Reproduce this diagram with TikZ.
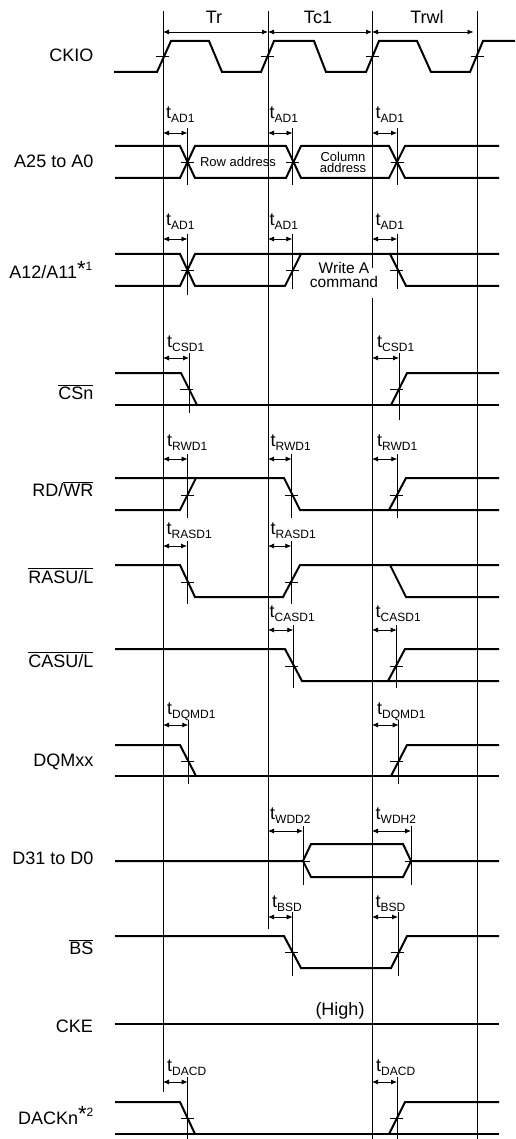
\documentclass[tikz,border=0pt]{standalone}
\usepackage{fontspec}
\setmainfont{Liberation Sans}
\usetikzlibrary{arrows.meta}

% Delay label: t with a lowered small subscript
\newcommand{\delayText}[1]{t\raisebox{-4pt}{\fontsize{12}{12}\selectfont #1}}
% Footnote mark after a signal name
\newcommand{\noteMark}[1]{\raisebox{2.5pt}{\fontsize{22}{22}\selectfont *}\raisebox{8pt}{\fontsize{12}{12}\selectfont #1}}

\tikzset{
    sigLine/.style={line width=2pt, line join=miter},
    refLine/.style={line width=0.8pt},
    gapArrow/.style={line width=0.8pt, {Latex[length=6pt,width=5pt]}-{Latex[length=6pt,width=5pt]}},
    sigName/.style={anchor=base east, inner sep=0pt, font=\fontsize{18}{18}\selectfont},
    delayName/.style={anchor=base west, inner sep=0pt, font=\fontsize{18}{18}\selectfont},
    stateName/.style={anchor=base, inner sep=0pt, font=\fontsize{18}{18}\selectfont},
    busText/.style={inner sep=0pt, align=center, font=\fontsize{13}{11}\selectfont}
}

\begin{document}
\begin{tikzpicture}[x=1pt, y=-1pt]
    \useasboundingbox (0,0) rectangle (515,1139);

    % Draw clock edges
    \draw[refLine] (163,11) -- (163,1092);
    \draw[refLine] (268,11) -- (268,929);
    \draw[refLine] (372,11) -- (372,268);
    \draw[refLine] (372,298) -- (372,1139);
    \draw[refLine] (477,11) -- (477,1139);

    % Cycle names
    \node[stateName] (tr) at (214,24) {Tr};
    \node[stateName] (tc) at (318,24) {Tc1};
    \node[stateName] (trwl) at (427,24) {Trwl};
    \draw[gapArrow] (163,32) -- (268,32);
    \draw[gapArrow] (268,32) -- (372,32);
    \draw[gapArrow] (372,32) -- (473.5,32);

    % Signal names
    \node[sigName] (ckio) at (93.5,62) {CKIO};
    \node[sigName] (addr) at (93.5,168) {A25 to A0};
    \node[sigName] (a12) at (92.5,279) {A12/A11\noteMark{1}};
    \node[sigName] (csn) at (93.5,399) {$\overline{\mbox{CSn}}$};
    \node[sigName] (rdwr) at (93.5,496) {RD/$\overline{\mbox{WR}}$};
    \node[sigName] (rasn) at (93.5,583) {$\overline{\mbox{RASU/L}}$};
    \node[sigName] (casn) at (93.5,667) {$\overline{\mbox{CASU/L}}$};
    \node[sigName] (dqm) at (93.5,766) {DQMxx};
    \node[sigName] (data) at (93.5,864) {D31 to D0};
    \node[sigName] (bsn) at (93.5,954) {$\overline{\mbox{BS}}$};
    \node[sigName] (cke) at (93,1032) {CKE};
    \node[sigName] (dack) at (93.5,1124) {DACKn\noteMark{2}};

    % CKIO
    \draw[sigLine] (114,72) -- (157,72) -- (171,41) -- (209,41) -- (222,72) -- (261,72) -- (274,41)
        -- (314,41) -- (326,72) -- (366,72) -- (379,41) -- (417,41) -- (431,72) -- (470,72) -- (483,41) -- (515,41);

    % A25 to A0
    \draw[sigLine] (115,146) -- (180,146) -- (195,178) -- (286,178) -- (301,146) -- (389,146) -- (405,178) -- (499,178);
    \draw[sigLine] (115,178) -- (180,178) -- (195,146) -- (286,146) -- (301,178) -- (389,178) -- (405,146) -- (499,146);

    % A12/A11
    \draw[sigLine] (115,254) -- (180,254) -- (195,286) -- (285,286) -- (301,254) -- (499,254);
    \draw[sigLine] (115,286) -- (180,286) -- (195,254) -- (301,254);
    \draw[sigLine] (390,254) -- (406,286) -- (499,286);

    % CSn
    \draw[sigLine] (115,373) -- (181,373) -- (197,405);
    \draw[sigLine] (115,405) -- (499,405);
    \draw[sigLine] (391,405) -- (407,373) -- (499,373);

    % RD/WR
    \draw[sigLine] (115,510) -- (180,510) -- (196,478);
    \draw[sigLine] (115,478) -- (284,478) -- (300,510) -- (499,510);
    \draw[sigLine] (389,510) -- (406,478) -- (499,478);

    % RASU/L
    \draw[sigLine] (115,565) -- (180,565) -- (195,597) -- (283,597) -- (300,565) -- (499,565);
    \draw[sigLine] (390,565) -- (406,597) -- (499,597);

    % CASU/L
    \draw[sigLine] (115,649) -- (285,649) -- (302,681) -- (499,681);
    \draw[sigLine] (388,681) -- (405,649) -- (499,649);

    % DQMxx
    \draw[sigLine] (115,745) -- (180,745) -- (196,776);
    \draw[sigLine] (115,776) -- (499,776);
    \draw[sigLine] (391,776) -- (407,745) -- (499,745);

    % D31 to D0
    \draw[sigLine] (115,861) -- (303,861) -- (311,844) -- (403,844) -- (411,861) -- (499,861);
    \draw[sigLine] (303,861) -- (311,877) -- (403,877) -- (411,861);

    % BS
    \draw[sigLine] (115,936) -- (284,936) -- (301,968) -- (391,968) -- (407,936) -- (499,936);

    % CKE
    \draw[sigLine] (115,1024) -- (499,1024);

    % DACKn
    \draw[sigLine] (115,1102) -- (180,1102) -- (195,1134);
    \draw[sigLine] (115,1134) -- (499,1134);
    \draw[sigLine] (389,1134) -- (405,1102) -- (499,1102);

    % Small level marks on CKIO
    \foreach \x in {162.5,267.5,372.5,477.5}
        \draw[refLine] (\x-6.5,56.5) -- (\x+6.5,56.5);

    % Delay marks: start edge / mark x / arrow y / mark end / tick y / tick centre
    \foreach \s/\x/\a/\b/\t/\m in {
        163/187.5/133/185/162/187.5, 268/292.5/133/185/162/292.5, 372/397/133/185/162/397,
        163/187.5/239/295/270/187.5, 268/292.3/239/289/270/292.3, 372/397.3/239/289/270/396,
        163/189/358/413/389/186.5, 372/399/358/420/389/396.5,
        163/187.7/459/518/495/187, 268/291.7/459/518/495/291, 372/397.3/459/518/495/396,
        163/187/546/604/582/187, 268/291.3/546/604/582/291,
        268/293.3/630/688/666/291, 372/396.7/630/688/666/396,
        163/188.3/725/784/761/187, 372/398.7/725/784/761/396.5,
        268/303/831/885/861/303, 372/411/831/885/861/411,
        268/292.7/917/976/952/291, 372/398/917/976/952/397,
        163/187.7/1082/1139/1118/187.5, 372/397/1082/1139/1118/396
    } {
        \draw[refLine] (\x,\a-5) -- (\x,\b);
        \draw[refLine] (\m-6.5,\t) -- (\m+6.5,\t);
        \draw[gapArrow] (\s,\a) -- (\x,\a);
    }

    % Bus contents
    \node[busText] (rowtext) at (238,162) {Row address};
    \node[busText] (coltext) at (343,162) {Column\\address};
    \node[busText, font=\fontsize{15.5}{13.5}\selectfont] (cmdtext) at (344,275) {Write A\\command};
    \node[stateName] (hightext) at (340,1015) {(High)};

    % Delay labels
    \foreach \lx/\ly/\txt/\nm in {
        166/119/AD1/ada, 269.5/119/AD1/adb, 375.5/119/AD1/adc,
        166/226/AD1/add, 269.5/226/AD1/ade, 375.5/226/AD1/adf,
        167/347/CSD1/csa, 377/347/CSD1/csb,
        167/446/RWD1/rwa, 270.5/446/RWD1/rwb, 377/446/RWD1/rwc,
        166.5/534/RASD1/raa, 270.5/534/RASD1/rab,
        269.5/617/CASD1/caa, 375.5/617/CASD1/cab,
        167/714/DQMD1/dqa, 377/714/DQMD1/dqb,
        270/819/WDD2/wdd, 375.5/819/WDH2/wdh,
        272/907/BSD/bsa, 375.5/907/BSD/bsb,
        167/1071/DACD/daa, 376/1071/DACD/dab
    } {
        \node[delayName] (\nm) at (\lx,\ly) {\delayText{\txt}};
    }
\end{tikzpicture}
\end{document}
